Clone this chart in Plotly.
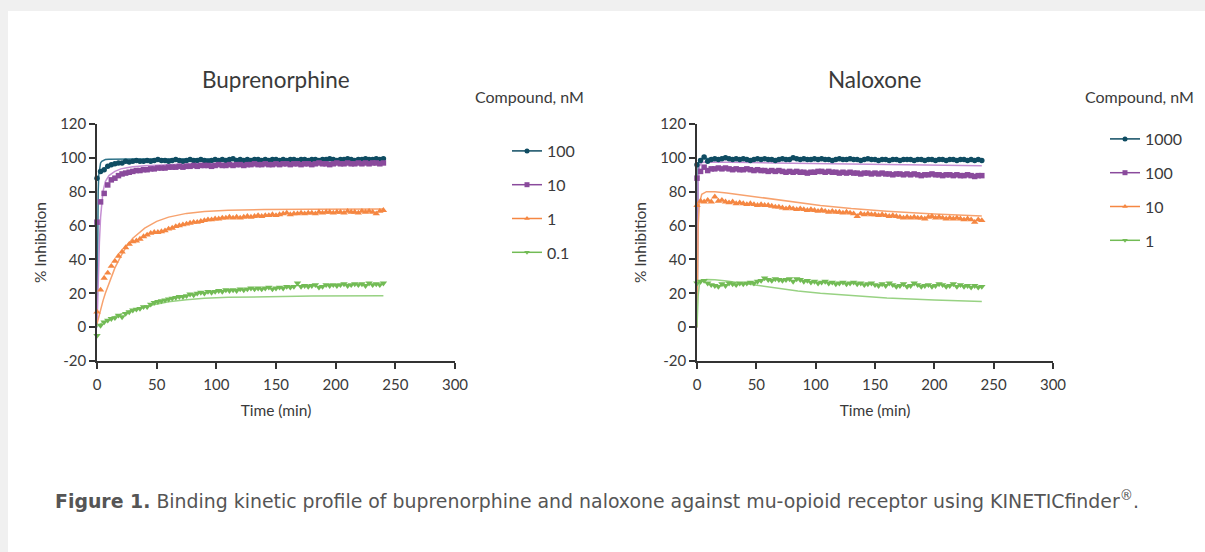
import plotly.graph_objects as go

# ---------------- data ----------------
time_min = [0, 3, 6, 9, 12, 15, 18, 21, 24, 27, 30, 33, 36, 39, 42, 45, 48, 51, 54, 57,
            60, 63, 66, 69, 72, 75, 78, 81, 84, 87, 90, 93, 96, 99, 102, 105, 108, 111, 114, 117,
            120, 123, 126, 129, 132, 135, 138, 141, 144, 147, 150, 153, 156, 159, 162, 165, 168, 171, 174, 177,
            180, 183, 186, 189, 192, 195, 198, 201, 204, 207, 210, 213, 216, 219, 222, 225, 228, 231, 234, 237, 240]

# Buprenorphine measured % inhibition
bup_100 = [88, 92, 93, 95, 96, 96.5, 97, 97, 98, 97.5, 98, 98.5, 98, 98, 98.5, 98, 98.5, 99, 98.5, 98.5,
           98, 98.5, 99, 98.5, 98, 98.5, 99, 98.5, 98.5, 99, 98.5, 98, 98.5, 99, 98.5, 99, 98.5, 99, 99.5, 98.5,
           99, 98.5, 99, 98.5, 99, 99, 98.5, 99, 98.5, 99, 99, 98.5, 99, 98.5, 99, 99, 98.5, 99, 99, 98.5,
           99, 99, 98.5, 99, 99, 99.5, 99, 98.5, 99, 99, 99.5, 99, 98.5, 99, 99, 99.5, 99, 99, 99.5, 99, 99.5]
bup_10 = [62, 74, 79, 84, 87, 88, 89.5, 90.5, 91, 91.5, 92, 92.5, 92.5, 93, 93, 93.5, 93.5, 94, 94, 94,
          94.5, 94.5, 94.5, 95, 94.5, 95, 95, 95.5, 95, 95.5, 95.5, 95.5, 95, 95.5, 96, 95.5, 95.5, 96, 95.5, 96,
          96, 95.5, 96, 96, 96.5, 96, 96, 96.5, 96, 96, 96.5, 96, 96.5, 96.5, 96, 96.5, 96.5, 96, 96.5, 96.5,
          96, 96.5, 97, 96.5, 96.5, 96, 96.5, 97, 96.5, 96.5, 97, 96.5, 96.5, 97, 96.5, 97, 96.5, 97, 97, 96.5, 97]
bup_1 = [9, 22, 29, 32, 36, 39, 42, 44.5, 47, 49, 50.5, 51, 52, 53.5, 54.5, 55.5, 56, 56, 56.5, 57,
         58, 58.5, 59.5, 60, 60.5, 61, 61.5, 62, 62, 62.5, 63, 63.5, 63.5, 64, 64, 64.5, 64.5, 65, 64.5, 65,
         64.5, 65, 65.5, 65, 65.5, 66, 65.5, 66, 66, 66.5, 66, 66.5, 67, 67.5, 66.5, 67, 67, 67.5, 67, 67.5,
         67.5, 67, 68, 67.5, 68, 68, 67.5, 68, 68, 67.5, 68.5, 68, 68, 67.5, 68.5, 68, 68.5, 68, 67, 68.5, 69]
bup_01 = [-5, 1, 3, 4, 5, 5.5, 7, 6, 8, 9, 10, 10.5, 11, 12, 12, 13.5, 14.5, 15, 15.5, 16,
          16.5, 17, 17.5, 18, 18, 18.5, 19.5, 19, 20, 20.5, 20, 21, 20.5, 21, 21.5, 21, 22, 21.5, 22, 21.5,
          22.5, 22, 22.5, 23, 22.5, 23, 22.5, 23, 23.5, 22.5, 23, 23.5, 23, 24, 23.5, 24, 26, 24, 24.5, 24,
          24.5, 25, 23.5, 24, 25, 24.5, 25, 24.5, 25, 25.5, 24.5, 25, 25.5, 25, 25.5, 24.5, 26, 25, 25.5, 25, 26]

# Naloxone measured % inhibition
nal_1000 = [96, 98.5, 100.5, 98, 99, 99.5, 99, 99.5, 100, 99.5, 99, 99.5, 99, 99.5, 99, 98.5, 99, 99.5, 99, 99.5,
            99, 99, 98.5, 99, 99.5, 99, 99, 100, 99.5, 99, 99.5, 99, 99, 99.5, 99, 99.5, 99, 99, 98.5, 99,
            99.5, 99, 99, 99.5, 99, 99, 98.5, 99, 99.5, 99, 99, 98.5, 99, 99, 98.5, 99, 99, 98.5, 99, 99,
            99, 98.5, 99, 99, 98.5, 99, 99, 98.5, 99, 99, 98.5, 99, 99, 98.5, 99, 99, 98.5, 99, 98.5, 99, 98.5]
nal_100 = [88, 92, 94.5, 92.5, 93.5, 93.5, 94, 93.5, 94, 93.5, 93, 93.5, 93, 93, 93.5, 93, 92.5, 93, 92.5, 92.5,
           92, 92.5, 92, 92.5, 92, 91.5, 92, 91.5, 92, 91.5, 91.5, 91, 91.5, 91.5, 92, 92, 91.5, 92, 91.5, 91.5,
           91, 91.5, 91, 91.5, 91, 91, 90.5, 91, 91, 90.5, 91, 90.5, 91, 90.5, 90.5, 90, 90.5, 90.5, 90, 90.5,
           90, 90.5, 90, 89.5, 90, 90, 90.5, 90, 90, 89.5, 90, 90, 89.5, 90, 89.5, 89.5, 90, 89.5, 89, 89.5, 89.5]
nal_10 = [72, 74.5, 74, 75, 74, 77, 74.5, 75, 74, 73.5, 74, 73, 73.5, 73, 72.5, 73, 72.5, 72, 72.5, 72,
          72, 71.5, 71, 71, 70.5, 70, 70.5, 70, 69.5, 70, 69.5, 69, 69.5, 69, 68.5, 69, 68.5, 68, 68.5, 68,
          68, 67.5, 68, 67.5, 67, 65.5, 67, 66.5, 67, 66.5, 66.5, 66, 66.5, 66, 65.5, 66, 65.5, 65, 64.5, 65,
          64.5, 65, 64.5, 64.5, 64, 65, 65.5, 64.5, 65, 64.5, 64, 64.5, 64, 64.5, 64, 63.5, 64, 63.5, 62, 63.5, 63]
nal_1 = [26, 27, 27.5, 26, 25, 24.5, 24, 25.5, 24.5, 26, 25.5, 25, 26, 25.5, 26, 26.5, 26, 27, 27.5, 29,
         28, 27.5, 28.5, 28, 27.5, 28, 28.5, 27, 28.5, 28, 27, 27.5, 26.5, 27, 26, 26.5, 27, 26, 26.5, 25.5,
         26, 26.5, 25.5, 26, 26.5, 25.5, 26, 25, 25.5, 26, 25, 24.5, 25.5, 24.5, 26, 25, 24, 24.5, 25.5, 24,
         24.5, 26, 25, 24, 24.5, 25, 24, 24.5, 25.5, 25, 24, 24.5, 25.5, 24, 25, 24, 24.5, 23.5, 24.5, 23.5, 24]

# Fitted kinetic curves
bup_fit_t = [0, 0.5, 1, 1.5, 2, 3, 4, 5, 7, 10, 15, 20, 25, 30, 40, 50, 60, 75, 90, 110, 140, 180, 240]
bup_fit_100 = [0, 55, 80, 90, 94, 97, 98, 98.5, 99, 99.2, 99.3, 99.3, 99.3, 99.3, 99.3, 99.3, 99.3, 99.3, 99.3, 99.3, 99.3, 99.3, 99.3]
bup_fit_10 = [0, 14, 27, 40, 50, 65, 74, 80, 86, 89.5, 92, 93.5, 94.2, 94.8, 95.4, 95.8, 96.1, 96.4, 96.6, 96.8, 96.9, 97, 97]
bup_fit_1 = [2, 3.5, 5, 6.5, 8, 10.5, 13, 15.5, 20, 26, 35, 42, 48, 52.5, 58.5, 62.5, 65, 67.2, 68.3, 69, 69.5, 69.7, 69.8]
bup_fit_01 = [0.5, 0.8, 1, 1.3, 1.5, 2, 2.4, 2.8, 3.6, 4.7, 6.3, 7.7, 9, 10.2, 12.2, 13.8, 15, 16.2, 17, 17.6, 18.1, 18.4, 18.5]

nal_fit_t = [0, 0.5, 1, 2, 4, 8, 15, 25, 45, 65, 85, 104, 130, 160, 200, 240]
nal_fit_1000 = [0, 80, 96, 99.3, 99.6, 99.6, 99.5, 99.5, 99.4, 99.3, 99.2, 99.1, 99, 98.9, 98.8, 98.7]
nal_fit_100 = [0, 60, 85, 95, 97.2, 97.5, 97.5, 97.4, 97.2, 97, 96.8, 96.6, 96.3, 96, 95.6, 95.3]
nal_fit_10 = [0, 40, 60, 73, 78.5, 80, 80, 79.3, 77.5, 75.5, 73.6, 71.9, 70.1, 68.5, 66.9, 65.7]
nal_fit_1 = [0, 12, 19, 25, 27.5, 28.2, 28, 27.2, 25.2, 23.2, 21.4, 20, 18.5, 17.2, 16, 15.2]

bup_labels = ["100", "10", "1", "0.1"]
nal_labels = ["1000", "100", "10", "1"]
x_ticks = [0, 50, 100, 150, 200, 250, 300]
y_ticks = [-20, 0, 20, 40, 60, 80, 100, 120]
y_tick_text = ["-20", "0", "20", "40", "60", "80", "100", "120"]

# ---------------- styling ----------------
W, H = 1205, 552
data_colors = ["#0f4c62", "#8a4a9c", "#f58742", "#72bb55"]
fit_colors = ["#2f7389", "#c58fd3", "#f7a26e", "#98d283"]
symbols = ["circle", "square", "triangle-up", "triangle-down"]
msizes = [5.5, 5.5, 6.5, 6.5]
FONT = "Lato, 'Open Sans', sans-serif"
TXT = "#3a3a3a"


def px_x(p):
    return p / W


def px_y(p):
    return 1 - p / H


fig = go.Figure()

panels = [
    ("x", "y", "legend", [bup_100, bup_10, bup_1, bup_01], bup_fit_t,
     [bup_fit_100, bup_fit_10, bup_fit_1, bup_fit_01], bup_labels),
    ("x2", "y2", "legend2", [nal_1000, nal_100, nal_10, nal_1], nal_fit_t,
     [nal_fit_1000, nal_fit_100, nal_fit_10, nal_fit_1], nal_labels),
]

for xa, ya, lg, series, ft, fits, labels in panels:
    # fitted curves
    for i, f in enumerate(fits):
        fig.add_trace(go.Scatter(x=ft, y=f, xaxis=xa, yaxis=ya, mode="lines",
                                 line=dict(color=fit_colors[i], width=1.5),
                                 showlegend=False, hoverinfo="skip", cliponaxis=False))
    # measured points
    for i, s in enumerate(series):
        fig.add_trace(go.Scatter(x=time_min, y=s, xaxis=xa, yaxis=ya, mode="markers",
                                 marker=dict(symbol=symbols[i], size=msizes[i], color=data_colors[i],
                                             line=dict(width=0)),
                                 name=labels[i], showlegend=False, cliponaxis=False))
    # legend entries
    for i, lab in enumerate(labels):
        fig.add_trace(go.Scatter(x=[None], y=[None], xaxis=xa, yaxis=ya, mode="lines+markers",
                                 line=dict(color=data_colors[i], width=1.5),
                                 marker=dict(symbol=symbols[i], size=5, color=data_colors[i]),
                                 name=lab, legend=lg, legendgroup=f"{lg}_{i}", showlegend=True))

axis_common = dict(range=[0, 300], tickvals=x_ticks, showline=True, linecolor="#333333", linewidth=1.5,
                   ticks="outside", ticklen=6, tickwidth=1.5, tickcolor="#333333", showgrid=False,
                   zeroline=False, tickfont=dict(family=FONT, size=15, color=TXT), ticklabelstandoff=3,
                   title=dict(text="Time (min)", font=dict(family=FONT, size=15.5, color=TXT), standoff=13))
yaxis_common = dict(range=[-20, 120], tickvals=y_ticks, ticktext=y_tick_text, showline=True,
                    linecolor="#333333", linewidth=1.5,
                    ticks="outside", ticklen=6, tickwidth=1.5, tickcolor="#333333", showgrid=False,
                    zeroline=False, tickfont=dict(family=FONT, size=15, color=TXT),
                    title=dict(text="% Inhibition", font=dict(family=FONT, size=15.5, color=TXT), standoff=10))

y_dom = [px_y(361), px_y(124)]
fig.update_layout(
    width=W, height=H, autosize=False,
    margin=dict(l=0, r=0, t=0, b=0, pad=0, autoexpand=False),
    paper_bgcolor="#f0f0f0", plot_bgcolor="rgba(0,0,0,0)",
    xaxis=dict(domain=[px_x(97), px_x(455)], anchor="y", **axis_common),
    yaxis=dict(domain=y_dom, anchor="x", **yaxis_common),
    xaxis2=dict(domain=[px_x(697), px_x(1053)], anchor="y2", **axis_common),
    yaxis2=dict(domain=y_dom, anchor="x2", **yaxis_common),
    legend=dict(x=px_x(507), y=px_y(134), xanchor="left", yanchor="top", traceorder="grouped",
                tracegroupgap=10, bgcolor="rgba(0,0,0,0)",
                font=dict(family=FONT, size=16, color=TXT)),
    legend2=dict(x=px_x(1105), y=px_y(122), xanchor="left", yanchor="top", traceorder="grouped",
                 tracegroupgap=10, bgcolor="rgba(0,0,0,0)",
                 font=dict(family=FONT, size=16, color=TXT)),
    shapes=[dict(type="rect", xref="paper", yref="paper", x0=px_x(8), x1=1, y0=0, y1=px_y(11),
                 fillcolor="white", line=dict(width=0), layer="below")],
    annotations=[
        dict(text="Buprenorphine", x=px_x(276), y=px_y(80), xref="paper", yref="paper", showarrow=False,
             xanchor="center", yanchor="middle", font=dict(family=FONT, size=22.5, color=TXT)),
        dict(text="Naloxone", x=px_x(875), y=px_y(80), xref="paper", yref="paper", showarrow=False,
             xanchor="center", yanchor="middle", font=dict(family=FONT, size=22.5, color=TXT)),
        dict(text="Compound, nM", x=px_x(529), y=px_y(96), xref="paper", yref="paper", showarrow=False,
             xanchor="center", yanchor="middle", font=dict(family=FONT, size=16, color=TXT)),
        dict(text="Compound, nM", x=px_x(1139), y=px_y(96), xref="paper", yref="paper", showarrow=False,
             xanchor="center", yanchor="middle", font=dict(family=FONT, size=16, color=TXT)),
        dict(text="<b>Figure 1.</b> Binding kinetic profile of buprenorphine and naloxone against "
                  "mu-opioid receptor using KINETICfinder<sup>®</sup>.",
             x=px_x(53), y=px_y(500), xref="paper", yref="paper", showarrow=False,
             xanchor="left", yanchor="middle",
             font=dict(family="'DejaVu Sans', Verdana, sans-serif", size=18.9, color="#555555")),
    ],
)

fig.write_html("out.html", config={"displayModeBar": False},
               post_script="document.body.style.margin='0';document.body.style.background='#ffffff';")
